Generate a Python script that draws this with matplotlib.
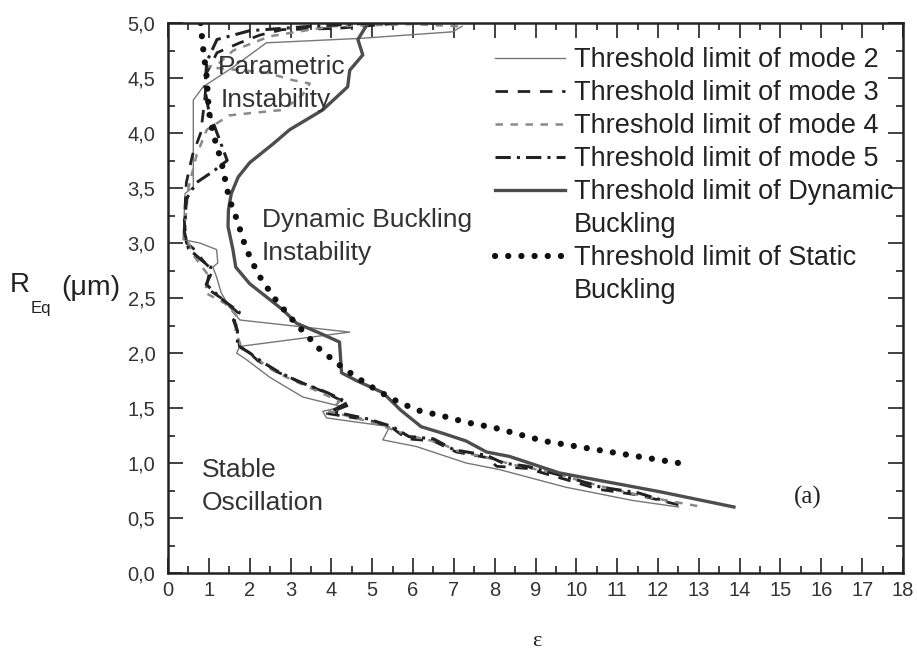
import numpy as np
import matplotlib.pyplot as plt
from matplotlib.lines import Line2D
from matplotlib.ticker import MultipleLocator, FuncFormatter

plt.rcParams['font.family'] = ['Liberation Sans', 'DejaVu Sans']

# threshold curves, epsilon vs R_Eq (um)
mode2_eps = [7.2, 6.97, 4.7, 2.41, 1.6, 0.86, 0.62, 0.62, 0.62, 0.42, 0.37, 0.78, 1.19, 1.22, 1.1, 1.19,
             1.3, 1.5, 1.76, 4.45, 1.76, 1.68, 1.92, 2.49, 3.3, 4.28, 3.79, 3.88, 5.43, 5.26, 6.08, 7.3,
             8.12, 9.74, 11.37, 12.5]
mode2_r = [4.97, 4.92, 4.86, 4.82, 4.6, 4.42, 4.3, 3.87, 3.51, 3.45, 3.03, 3.0, 2.94, 2.82, 2.78, 2.69,
           2.55, 2.42, 2.3, 2.19, 2.06, 2.0, 1.94, 1.78, 1.6, 1.51, 1.47, 1.41, 1.33, 1.21, 1.15, 1.0,
           0.94, 0.78, 0.66, 0.6]

mode3_eps = [6.7, 5.7, 4.1, 2.8, 2.25, 1.76, 1.2, 0.95, 0.9, 0.8, 0.6, 0.45, 0.4, 0.45, 0.62, 0.9, 1.1,
             0.9, 1.3, 1.55, 1.76, 1.6, 1.7, 1.75, 2.0, 2.2, 2.6, 3.15, 3.8, 4.45, 3.9, 4.9, 5.45, 5.85,
             6.5, 7.06, 7.8, 8.05, 8.8, 9.74, 10.56, 11.5, 12.5]
mode3_r = [5.0, 5.0, 4.95, 4.94, 4.89, 4.82, 4.73, 4.55, 4.3, 4.0, 3.8, 3.55, 3.2, 3.0, 2.95, 2.82, 2.75,
           2.6, 2.5, 2.42, 2.35, 2.3, 2.2, 2.06, 2.0, 1.93, 1.84, 1.75, 1.65, 1.53, 1.45, 1.39, 1.33, 1.22,
           1.2, 1.1, 1.05, 0.97, 0.95, 0.85, 0.76, 0.71, 0.62]

mode4_eps = [7.1, 6.0, 4.0, 2.5, 1.6, 1.2, 0.95, 1.5, 2.4, 3.06, 3.47, 3.3, 2.82, 2.0, 1.5, 0.95, 0.7,
             0.5, 0.4, 0.6, 1.0, 0.9, 1.4, 1.7, 1.65, 1.8, 2.1, 2.4, 2.9, 3.5, 4.2, 3.95, 4.7, 5.3, 5.9,
             6.6, 7.1, 7.9, 8.5, 9.2, 10.0, 10.9, 11.9, 13.1]
mode4_r = [4.97, 4.99, 4.97, 4.88, 4.75, 4.62, 4.6, 4.58, 4.55, 4.48, 4.45, 4.35, 4.21, 4.18, 4.16, 4.03,
           3.8, 3.5, 3.1, 2.9, 2.7, 2.55, 2.45, 2.33, 2.2, 2.05, 1.98, 1.88, 1.78, 1.68, 1.56, 1.47, 1.4,
           1.33, 1.25, 1.19, 1.11, 1.04, 0.98, 0.93, 0.85, 0.76, 0.68, 0.6]

mode5_eps = [5.0, 3.5, 2.0, 1.2, 0.95, 0.9, 1.0, 1.3, 1.45, 1.1, 0.7, 0.45, 0.4, 0.5, 0.8, 1.05, 0.95,
             1.35, 1.75, 1.62, 1.7, 1.7, 2.0, 2.3, 2.7, 3.2, 3.9, 4.4, 4.0, 4.9, 5.5, 5.9, 6.5, 7.0, 7.8,
             8.2, 8.8, 9.8, 10.6, 11.5, 12.2]
mode5_r = [5.0, 4.97, 4.93, 4.85, 4.65, 4.4, 4.2, 3.9, 3.75, 3.65, 3.55, 3.4, 3.1, 2.95, 2.85, 2.78, 2.62,
           2.48, 2.37, 2.3, 2.2, 2.07, 2.0, 1.92, 1.83, 1.74, 1.64, 1.55, 1.47, 1.4, 1.33, 1.24, 1.22,
           1.12, 1.07, 1.0, 0.97, 0.87, 0.78, 0.73, 0.65]

dyn_eps = [4.9, 4.65, 4.77, 4.45, 4.4, 3.79, 2.98, 2.57, 2.0, 1.72, 1.55, 1.48, 1.47, 1.59, 1.66, 2.0,
           2.41, 2.82, 3.15, 3.72, 4.2, 4.25, 4.61, 5.26, 5.7, 6.2, 6.73, 7.3, 7.8, 8.36, 9.58, 10.73,
           12.03, 13.86]
dyn_r = [5.0, 4.85, 4.71, 4.57, 4.42, 4.21, 4.03, 3.9, 3.73, 3.6, 3.45, 3.3, 3.15, 2.94, 2.78, 2.63,
         2.51, 2.39, 2.27, 2.18, 2.1, 1.82, 1.75, 1.64, 1.48, 1.33, 1.27, 1.2, 1.1, 1.06, 0.91, 0.83,
         0.74, 0.6]

static_eps = [0.8, 0.85, 0.95, 1.0, 1.1, 1.3, 1.5, 1.7, 1.9, 2.2, 2.6, 3.1, 3.7, 4.3, 4.9, 5.5, 6.1,
              6.7, 7.3, 8.0, 9.2, 11.0, 12.5]
static_r = [5.0, 4.8, 4.5, 4.2, 4.0, 3.75, 3.4, 3.2, 2.96, 2.72, 2.5, 2.28, 2.04, 1.86, 1.71, 1.58, 1.48,
            1.43, 1.37, 1.32, 1.2, 1.09, 1.0]

legend_labels = ["Threshold limit of mode 2", "Threshold limit of mode 3", "Threshold limit of mode 4",
                 "Threshold limit of mode 5", "Threshold limit of Dynamic", "Buckling",
                 "Threshold limit of Static", "Buckling"]

fig = plt.figure(figsize=(9.17, 6.55), dpi=100)
ax = fig.add_axes([168 / 917, 1 - 573 / 655, (903 - 168) / 917, (573 - 23) / 655])

styles = {
    'm2': dict(color='#777777', lw=1.0, ls='-'),
    'm3': dict(color='#222222', lw=2.0, ls=(0, (4.5, 3.5))),
    'm4': dict(color='#8a8a8a', lw=1.8, ls=(0, (3, 3))),
    'm5': dict(color='#222222', lw=2.2, ls=(0, (5, 2, 1, 2))),
    'dyn': dict(color='#4d4d4d', lw=2.4, ls='-'),
    'st': dict(color='#111111', lw=4.5, ls=(0, (0.01, 2.1)), dash_capstyle='round'),
}

ax.plot(mode2_eps, mode2_r, **styles['m2'])
ax.plot(mode3_eps, mode3_r, **styles['m3'])
ax.plot(mode4_eps, mode4_r, **styles['m4'])
ax.plot(mode5_eps, mode5_r, **styles['m5'])
ax.plot(dyn_eps, dyn_r, **styles['dyn'])
ax.plot(static_eps, static_r, **styles['st'])

ax.set_xlim(0, 18)
ax.set_ylim(0, 5)
ax.xaxis.set_major_locator(MultipleLocator(1))
ax.xaxis.set_minor_locator(MultipleLocator(0.5))
ax.yaxis.set_major_locator(MultipleLocator(0.5))
ax.yaxis.set_minor_locator(MultipleLocator(0.25))
ax.yaxis.set_major_formatter(FuncFormatter(lambda v, p: f"{v:.1f}".replace('.', ',')))
ax.tick_params(which='both', direction='in', top=True, right=True, colors='#333333', width=1.3)
ax.tick_params(which='major', length=11, labelsize=14.5)
ax.tick_params(which='minor', length=5)
ax.tick_params(axis='x', pad=6)
ax.tick_params(axis='y', pad=9)
for sp in ax.spines.values():
    sp.set_linewidth(1.8)
    sp.set_color('#222222')

# legend with blank rows for the wrapped labels
blank = Line2D([], [], linestyle='none')
handles = [Line2D([], [], **styles['m2']), Line2D([], [], **styles['m3']),
           Line2D([], [], **styles['m4']), Line2D([], [], **styles['m5']),
           Line2D([], [], **styles['dyn']), blank,
           Line2D([], [], **styles['st']), blank]
ax.legend(handles, legend_labels, loc='upper left', bbox_to_anchor=(495 / 917, 1 - 47 / 655),
          bbox_transform=fig.transFigure, frameon=False, fontsize=19.5, labelspacing=0.26,
          handlelength=2.6, handletextpad=0.3, borderpad=0, borderaxespad=0, labelcolor='#222222')

txt = dict(fontsize=19, color='#333333', va='center', ha='left')
ax.text(1.22, 4.6, "Parametric", **txt)
ax.text(1.3, 4.3, "Instability", **txt)
ax.text(2.29, 3.21, "Dynamic Buckling", **txt)
ax.text(2.29, 2.91, "Instability", **txt)
ax.text(0.83, 0.94, "Stable", **txt)
ax.text(0.83, 0.64, "Oscillation", **txt)
ax.text(15.66, 0.69, "(a)", fontsize=18, color='#222222', va='center', ha='center',
        family=['Liberation Serif', 'DejaVu Serif'])

# x label placed by hand so it sits close to the bottom edge
fig.text(537 / 917, 1 - 642 / 655, "ε", fontsize=16, ha='center', va='center', color='#222222',
         family=['Liberation Serif', 'DejaVu Serif'])

fig.text(10 / 917, 1 - 285 / 655, "R", fontsize=20, va='center', ha='left', color='#222222')
fig.text(31 / 917, 1 - 308 / 655, "Eq", fontsize=12, va='center', ha='left', color='#222222')
fig.text(61 / 917, 1 - 288 / 655, "(μm)", fontsize=20.5, va='center', ha='left', color='#222222')

fig.savefig("out.png", dpi=100)
